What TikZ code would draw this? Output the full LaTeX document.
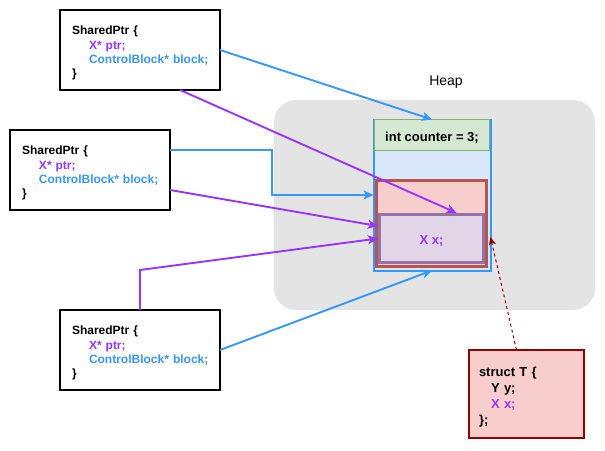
\documentclass[tikz,border=0pt]{standalone}
\usepackage{fontspec}
\setmainfont{Liberation Sans}
\usetikzlibrary{arrows.meta,calc}
\definecolor{cblue}{RGB}{51,153,255}
\definecolor{cpurple}{RGB}{153,51,255}
\definecolor{heapgray}{RGB}{228,228,228}
\definecolor{cbfill}{HTML}{DAE8FC}
\definecolor{grfill}{HTML}{D5E8D4}
\definecolor{grline}{HTML}{82B366}
\definecolor{rdfill}{HTML}{F8CECC}
\definecolor{rdline}{HTML}{B85450}
\definecolor{pufill}{HTML}{E1D5E7}
\definecolor{puline}{HTML}{9673A6}
\definecolor{darkred}{HTML}{990000}
\begin{document}
\begin{tikzpicture}[x=1pt,y=-1pt,
  sptr/.style={draw=black, line width=1.4pt, fill=white, outer sep=0pt,
    text width=136pt, inner xsep=12pt, minimum height=80pt, align=left,
    font=\fontsize{12}{14.4}\selectfont\bfseries},
  conn/.style={line width=1.9pt, -{Stealth[length=10pt,width=9pt,inset=2.5pt]}},
  blueconn/.style={conn, draw=cblue},
  purpconn/.style={conn, draw=cpurple},
]
\useasboundingbox (0,0) rectangle (605,450);

% heap
\node[fill=heapgray, rounded corners=22pt, minimum width=321pt, minimum height=210pt, inner sep=0pt] (heap) at (434.5,205) {};
\node[font=\fontsize{14}{16}\selectfont] (heaplbl) at (446,82) {Heap};

% control block
\node[draw=cblue, line width=2pt, fill=cbfill, minimum width=117pt, minimum height=151pt, inner sep=0pt, outer sep=0pt] (cb) at (432,195) {};
\node[draw=grline, line width=1.3pt, fill=grfill, minimum width=115pt, minimum height=31pt, inner sep=0pt,
  text height=15pt, text depth=2.5pt,
  font=\fontsize{13}{15}\selectfont\bfseries] (cnt) at (432,135) {int counter = 3;};
\node[draw=rdline, line width=3.2pt, fill=rdfill, minimum width=110pt, minimum height=86pt, inner sep=0pt] (tb) at (431.5,223.5) {};
\node[draw=puline, line width=3.2pt, fill=pufill, minimum width=104pt, minimum height=48pt, inner sep=0pt,
  text height=15pt, text depth=2.5pt,
  text=cpurple, font=\fontsize{13}{15}\selectfont\bfseries] (xb) at (431.5,238.5) {X x;};

% shared pointers
\node[sptr] (b1) at (140,50) {\rule{0pt}{15pt}SharedPtr \{\\\hspace*{17pt}\textcolor{cpurple}{X* ptr;}\\\hspace*{17pt}\mbox{\textcolor{cblue}{ControlBlock* block;}}\\\}};
\node[sptr] (b2) at (90,170) {\rule{0pt}{15pt}SharedPtr \{\\\hspace*{17pt}\textcolor{cpurple}{X* ptr;}\\\hspace*{17pt}\mbox{\textcolor{cblue}{ControlBlock* block;}}\\\}};
\node[sptr] (b3) at (140,350) {\rule{0pt}{15pt}SharedPtr \{\\\hspace*{17pt}\textcolor{cpurple}{X* ptr;}\\\hspace*{17pt}\mbox{\textcolor{cblue}{ControlBlock* block;}}\\\}};

% struct T
\node[draw=darkred, line width=2pt, fill=rdfill, text width=95pt, inner xsep=10pt, minimum height=88pt, align=left, outer sep=0pt,
  font=\fontsize{13}{15.8}\selectfont\bfseries] (st) at (526.5,394) {\rule{0pt}{16pt}struct T \{\\\hspace*{12pt}Y y;\\\hspace*{12pt}\textcolor{cpurple}{X x;}\\\};};

% connectors
\draw[blueconn] (b1.east) -- (cb.north);
\draw[purpconn] ($(b1.south)!0.5!(b1.south east)$) -- ($(xb.north)+(25,0)$);
\draw[blueconn] ($(b2.east)+(0,-20)$) -- ++(102,0) |- (cb.west);
\draw[purpconn] ($(b2.east)+(0,20)$) -- ($(xb.west)+(0,-12.5)$);
\draw[purpconn] (b3.north) -- ++(0,-40) -- (xb.west);
\draw[blueconn] (b3.east) -- (cb.south);
\draw[darkred, line width=1pt, dash pattern=on 3pt off 3pt, -{Stealth[length=8pt,width=7pt,inset=2pt]}] ($(st.north)+(-10,0)$) -- ($(cb.east)+(0,42)$);
\end{tikzpicture}
\end{document}
